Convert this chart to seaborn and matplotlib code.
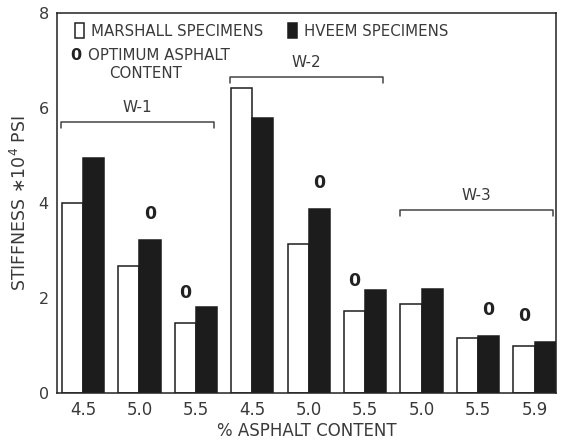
import matplotlib
matplotlib.use("Agg")
import matplotlib.pyplot as plt
import seaborn as sns
import pandas as pd
from matplotlib.patches import Rectangle

# ---- data ----
categories = ["W-1 4.5", "W-1 5.0", "W-1 5.5",
              "W-2 4.5", "W-2 5.0", "W-2 5.5",
              "W-3 5.0", "W-3 5.5", "W-3 5.9"]
tick_labels = ["4.5", "5.0", "5.5", "4.5", "5.0", "5.5", "5.0", "5.5", "5.9"]
marshall = [4.0, 2.67, 1.48, 6.42, 3.14, 1.73, 1.87, 1.15, 0.99]
hveem = [4.95, 3.22, 1.82, 5.79, 3.87, 2.17, 2.19, 1.19, 1.08]
optimum = ["", "HVEEM", "MARSHALL", "", "HVEEM", "MARSHALL", "", "HVEEM", "MARSHALL"]
groups = ["W-1", "W-2", "W-3"]
group_members = [(0, 2), (3, 5), (6, 8)]
bracket_levels = [5.71, 6.65, 3.85]

df = pd.DataFrame({
    "cat": categories * 2,
    "stiff": marshall + hveem,
    "spec": ["MARSHALL"] * len(categories) + ["HVEEM"] * len(categories),
})

sns.set_style("white")
plt.rcParams["font.family"] = ["DejaVu Sans"]

fig = plt.figure(figsize=(5.61, 4.42), dpi=100)
ax = fig.add_axes([0.1016, 0.111, 0.8894, 0.8596])

sns.barplot(data=df, x="cat", y="stiff", hue="spec", order=categories,
            hue_order=["MARSHALL", "HVEEM"],
            palette={"MARSHALL": "white", "HVEEM": "#1c1c1c"},
            edgecolor="#1c1c1c", linewidth=1.1, width=0.75,
            ax=ax, legend=False, saturation=1)

ax.set_xlim(-0.46, 8.38)
ax.set_ylim(0, 8)
ax.set_yticks([0, 2, 4, 6, 8])
ax.set_xticks(range(len(categories)))
ax.set_xticklabels(tick_labels)
txtc = "#3a3a3a"
ax.tick_params(axis="y", direction="in", length=4, width=1, labelsize=11.5,
               colors="#222222", labelcolor=txtc, pad=6)
ax.tick_params(axis="x", length=0, labelsize=12, labelcolor=txtc, pad=6)
for s in ax.spines.values():
    s.set_visible(True)
    s.set_color("#222222")
    s.set_linewidth(1.1)

ax.set_xlabel("% ASPHALT CONTENT", fontsize=12, color=txtc, labelpad=2)
ax.set_ylabel(r"STIFFNESS $\ast$10$^4$ PSI", fontsize=12.5, color=txtc, labelpad=6)

# optimum markers
conts = ax.containers
series_idx = {"MARSHALL": 0, "HVEEM": 1}
for i, o in enumerate(optimum):
    if not o:
        continue
    p = conts[series_idx[o]].patches[i]
    xc = p.get_x() + p.get_width() / 2
    off = 0.55 if o == "HVEEM" else 0.62
    ax.text(xc, p.get_height() + off, "0", ha="center", va="center",
            fontsize=12.5, fontweight="bold", color="#222222")

# group brackets
for g, (a, b), lvl in zip(groups, group_members, bracket_levels):
    x0, x1 = a - 0.39, b + 0.32
    ax.plot([x0, x0, x1, x1], [lvl - 0.13, lvl, lvl, lvl - 0.13],
            color="#444444", lw=1.1, clip_on=False)
    ax.text((x0 + x1) / 2, lvl + 0.3, g, ha="center", va="center",
            fontsize=11, color=txtc)

# legend
handles = [Rectangle((0, 0), 1, 1, facecolor="white", edgecolor="#222222", lw=1.1),
           Rectangle((0, 0), 1, 1, facecolor="#1c1c1c", edgecolor="#1c1c1c", lw=1.1)]
leg = ax.legend(handles, ["MARSHALL SPECIMENS", "HVEEM SPECIMENS"], ncol=2,
                loc="upper left", bbox_to_anchor=(0.015, 1.0), frameon=False,
                handlelength=0.6, handleheight=1.1, handletextpad=0.5,
                columnspacing=1.6, fontsize=10.8, borderaxespad=0.3)
for t in leg.get_texts():
    t.set_color(txtc)
ax.text(0.027, 0.888, "0", transform=ax.transAxes, fontsize=11.5,
        fontweight="bold", color="#222222", va="center", ha="left")
ax.text(0.062, 0.888, "OPTIMUM ASPHALT", transform=ax.transAxes, fontsize=10.8,
        color=txtc, va="center", ha="left")
ax.text(0.178, 0.842, "CONTENT", transform=ax.transAxes, fontsize=10.8,
        color=txtc, va="center", ha="center")

fig.savefig("out.png", dpi=100)
